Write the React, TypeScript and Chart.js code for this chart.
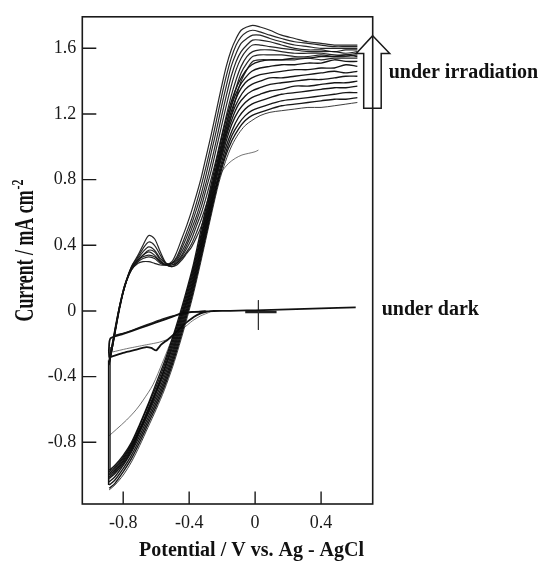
import React, { useEffect, useRef } from "react";
import { Chart, registerables } from "chart.js";

Chart.register(...registerables);

// ---------- axis ticks ----------
const X_TICKS = [-0.8, -0.4, 0, 0.4];
const Y_TICKS = [-0.8, -0.4, 0, 0.4, 0.8, 1.2, 1.6];
const X_MIN = -1.048;
const X_MAX = 0.713;
const Y_MIN = -1.176;
const Y_MAX = 1.792;

// ---------- irradiation: anodic branch (left band, hump, upper plateau group) ----------
const FWD_V = [-0.885, -0.865, -0.845, -0.82, -0.79, -0.75, -0.71, -0.68, -0.645, -0.61, -0.575, -0.54, -0.505, -0.475, -0.445, -0.415, -0.385, -0.355, -0.325, -0.295, -0.265, -0.235, -0.205, -0.175, -0.145, -0.115, -0.085, -0.05, -0.015, 0.03, 0.09, 0.16, 0.24, 0.32, 0.40, 0.48, 0.55, 0.62];
const FWD_1 = [-0.30, -0.20, -0.09, 0.04, 0.16, 0.25, 0.29, 0.30, 0.30, 0.29, 0.28, 0.28, 0.30, 0.36, 0.44, 0.52, 0.61, 0.71, 0.82, 0.95, 1.08, 1.22, 1.36, 1.49, 1.59, 1.66, 1.71, 1.73, 1.74, 1.73, 1.71, 1.68, 1.66, 1.64, 1.63, 1.62, 1.62, 1.62];
const FWD_2 = [-0.31, -0.21, -0.10, 0.03, 0.15, 0.25, 0.30, 0.32, 0.33, 0.32, 0.29, 0.28, 0.29, 0.33, 0.40, 0.48, 0.56, 0.66, 0.77, 0.89, 1.02, 1.16, 1.30, 1.43, 1.54, 1.62, 1.67, 1.70, 1.71, 1.70, 1.68, 1.66, 1.64, 1.63, 1.62, 1.61, 1.61, 1.61];
const FWD_3 = [-0.29, -0.19, -0.08, 0.04, 0.16, 0.26, 0.31, 0.34, 0.36, 0.34, 0.30, 0.28, 0.29, 0.32, 0.38, 0.45, 0.53, 0.62, 0.72, 0.84, 0.97, 1.10, 1.24, 1.37, 1.49, 1.57, 1.63, 1.66, 1.68, 1.68, 1.66, 1.64, 1.62, 1.61, 1.60, 1.60, 1.60, 1.60];
const FWD_4 = [-0.32, -0.22, -0.10, 0.03, 0.15, 0.26, 0.32, 0.36, 0.39, 0.37, 0.32, 0.29, 0.29, 0.31, 0.36, 0.42, 0.50, 0.58, 0.68, 0.79, 0.91, 1.04, 1.18, 1.31, 1.43, 1.52, 1.58, 1.62, 1.65, 1.65, 1.64, 1.62, 1.60, 1.59, 1.59, 1.58, 1.59, 1.59];
const FWD_5 = [-0.30, -0.20, -0.09, 0.04, 0.16, 0.27, 0.33, 0.38, 0.42, 0.40, 0.34, 0.29, 0.28, 0.30, 0.34, 0.40, 0.47, 0.55, 0.64, 0.75, 0.86, 0.99, 1.12, 1.25, 1.37, 1.47, 1.54, 1.59, 1.62, 1.62, 1.61, 1.60, 1.59, 1.58, 1.58, 1.58, 1.57, 1.58];
const FWD_6 = [-0.33, -0.22, -0.11, 0.02, 0.15, 0.27, 0.34, 0.40, 0.46, 0.44, 0.36, 0.29, 0.27, 0.29, 0.33, 0.38, 0.44, 0.52, 0.60, 0.70, 0.81, 0.93, 1.06, 1.19, 1.31, 1.41, 1.49, 1.55, 1.58, 1.59, 1.59, 1.58, 1.57, 1.57, 1.57, 1.56, 1.56, 1.57];
const FWD_7 = [-0.31, -0.21, -0.10, 0.03, 0.15, 0.26, 0.31, 0.33, 0.34, 0.33, 0.30, 0.28, 0.28, 0.29, 0.32, 0.36, 0.41, 0.48, 0.56, 0.65, 0.75, 0.87, 1.00, 1.13, 1.25, 1.36, 1.45, 1.51, 1.55, 1.56, 1.56, 1.56, 1.55, 1.55, 1.56, 1.55, 1.55, 1.56];
const FWD_8 = [-0.32, -0.22, -0.11, 0.03, 0.15, 0.26, 0.31, 0.34, 0.37, 0.36, 0.31, 0.28, 0.27, 0.28, 0.31, 0.35, 0.39, 0.45, 0.52, 0.61, 0.71, 0.82, 0.94, 1.07, 1.19, 1.30, 1.40, 1.47, 1.52, 1.53, 1.53, 1.53, 1.53, 1.54, 1.53, 1.54, 1.54, 1.54];

// ---------- irradiation: cathodic branch (lower plateau group, right band) ----------
const REV_V = [0.62, 0.55, 0.48, 0.40, 0.32, 0.24, 0.16, 0.09, 0.03, -0.02, -0.06, -0.10, -0.14, -0.18, -0.22, -0.26, -0.30, -0.34, -0.38, -0.42, -0.46, -0.50, -0.55, -0.60, -0.65, -0.70, -0.75, -0.80, -0.85, -0.885];
const REV_1 = [1.55, 1.56, 1.55, 1.55, 1.54, 1.54, 1.53, 1.53, 1.52, 1.50, 1.46, 1.39, 1.29, 1.15, 0.98, 0.80, 0.62, 0.44, 0.26, 0.11, -0.03, -0.16, -0.31, -0.44, -0.57, -0.69, -0.80, -0.88, -0.94, -0.97];
const REV_2 = [1.52, 1.52, 1.53, 1.51, 1.51, 1.50, 1.50, 1.49, 1.48, 1.46, 1.42, 1.36, 1.26, 1.12, 0.95, 0.77, 0.59, 0.41, 0.24, 0.09, -0.05, -0.18, -0.33, -0.46, -0.58, -0.70, -0.81, -0.89, -0.95, -0.98];
const REV_3 = [1.49, 1.50, 1.48, 1.48, 1.47, 1.47, 1.46, 1.45, 1.44, 1.42, 1.39, 1.33, 1.23, 1.09, 0.93, 0.75, 0.57, 0.39, 0.22, 0.07, -0.07, -0.20, -0.35, -0.48, -0.60, -0.72, -0.82, -0.90, -0.96, -0.99];
const REV_4 = [1.46, 1.45, 1.46, 1.45, 1.44, 1.43, 1.42, 1.42, 1.40, 1.38, 1.35, 1.29, 1.20, 1.07, 0.91, 0.73, 0.55, 0.37, 0.20, 0.05, -0.09, -0.22, -0.36, -0.49, -0.61, -0.72, -0.83, -0.91, -0.97, -1.00];
const REV_5 = [1.43, 1.43, 1.42, 1.41, 1.41, 1.40, 1.39, 1.38, 1.36, 1.34, 1.31, 1.26, 1.17, 1.05, 0.89, 0.71, 0.53, 0.35, 0.18, 0.03, -0.11, -0.24, -0.38, -0.50, -0.62, -0.73, -0.84, -0.92, -0.98, -1.01];
const REV_6 = [1.40, 1.39, 1.39, 1.38, 1.37, 1.37, 1.35, 1.34, 1.32, 1.30, 1.27, 1.22, 1.14, 1.02, 0.87, 0.69, 0.51, 0.33, 0.16, 0.01, -0.13, -0.26, -0.40, -0.52, -0.63, -0.74, -0.85, -0.93, -0.99, -1.02];
const REV_7 = [1.37, 1.36, 1.36, 1.35, 1.34, 1.33, 1.32, 1.30, 1.28, 1.26, 1.23, 1.18, 1.10, 0.99, 0.84, 0.67, 0.49, 0.31, 0.14, -0.01, -0.15, -0.28, -0.42, -0.54, -0.65, -0.76, -0.86, -0.94, -1.01, -1.04];
const REV_8 = [1.33, 1.33, 1.32, 1.31, 1.30, 1.29, 1.28, 1.26, 1.24, 1.22, 1.19, 1.14, 1.07, 0.96, 0.82, 0.65, 0.47, 0.29, 0.12, -0.03, -0.17, -0.30, -0.44, -0.56, -0.67, -0.78, -0.88, -0.96, -1.03, -1.06];
const REV_9 = [1.30, 1.29, 1.29, 1.28, 1.27, 1.26, 1.25, 1.23, 1.21, 1.19, 1.16, 1.11, 1.04, 0.94, 0.80, 0.63, 0.45, 0.27, 0.10, -0.05, -0.19, -0.32, -0.46, -0.58, -0.69, -0.80, -0.90, -0.98, -1.05, -1.08];
const REV_10 = [1.27, 1.26, 1.25, 1.24, 1.24, 1.23, 1.22, 1.21, 1.19, 1.16, 1.13, 1.08, 1.01, 0.91, 0.78, 0.61, 0.43, 0.25, 0.08, -0.07, -0.21, -0.34, -0.48, -0.60, -0.71, -0.82, -0.92, -1.00, -1.06, -1.09];

// ---------- potential-limit jumps at -0.9 V ----------
const JUMP_V = [-0.888, -0.888];
const JUMP_I = [-1.06, -0.30];
const JUMP2_V = [-0.879, -0.879];
const JUMP2_I = [-0.97, -0.22];

// ---------- first (short) scan ----------
const FIRST_V = [-0.885, -0.84, -0.78, -0.72, -0.68, -0.62, -0.56, -0.52, -0.48, -0.44, -0.40, -0.36, -0.32, -0.28, -0.24, -0.20, -0.16, -0.12, -0.08, -0.04, 0.0, 0.02];
const FIRST_I = [-0.76, -0.72, -0.665, -0.60, -0.545, -0.45, -0.31, -0.21, -0.11, -0.01, 0.09, 0.24, 0.42, 0.60, 0.75, 0.85, 0.90, 0.93, 0.95, 0.96, 0.97, 0.98];

// ---------- under dark ----------
const DARK_V = [0.61, 0.50, 0.40, 0.30, 0.20, 0.10, 0.0, -0.10, -0.20, -0.30, -0.38, -0.44, -0.50, -0.60, -0.70, -0.80, -0.875, -0.885, -0.885, -0.875, -0.80, -0.72, -0.66, -0.63, -0.60, -0.57, -0.53, -0.49, -0.45, -0.41, -0.37, -0.33, -0.29, -0.25, -0.20];
const DARK_I = [0.022, 0.019, 0.016, 0.013, 0.010, 0.006, 0.004, 0.002, 0.0, -0.002, -0.005, -0.012, -0.035, -0.07, -0.105, -0.14, -0.165, -0.20, -0.28, -0.28, -0.255, -0.235, -0.22, -0.225, -0.24, -0.205, -0.175, -0.14, -0.10, -0.065, -0.035, -0.015, -0.004, 0.0, 0.0];
const DARK2_V = [-0.86, -0.78, -0.70, -0.62, -0.55, -0.48, -0.42, -0.36, -0.30];
const DARK2_I = [-0.15, -0.13, -0.10, -0.07, -0.045, -0.025, -0.012, -0.005, 0.0];
const DARK3_V = [-0.865, -0.78, -0.68, -0.58, -0.50, -0.44, -0.38, -0.33, -0.27];
const DARK3_I = [-0.25, -0.23, -0.21, -0.19, -0.16, -0.11, -0.06, -0.03, -0.005];

// ---------- marker cross near 0 V ----------
const CROSS_V = [0.02, 0.02];
const CROSS_I = [0.065, -0.115];
const BAR_V = [-0.06, 0.13];
const BAR_I = [-0.006, -0.006];

const pts = (xs: number[], ys: number[]) => xs.map((x, i) => ({ x, y: ys[i] }));

const SERIF = '"Liberation Serif", "Times New Roman", serif';

export default function App() {
  const ref = useRef<HTMLCanvasElement | null>(null);

  useEffect(() => {
    document.body.style.margin = "0";
    const canvas = ref.current;
    if (!canvas) return;

    const line = (data: { x: number; y: number }[], width: number, color: string, tension = 0.3) => ({
      data,
      showLine: true,
      borderColor: color,
      borderWidth: width,
      pointRadius: 0,
      tension,
      fill: false,
    });

    const fwd = [FWD_1, FWD_2, FWD_3, FWD_4, FWD_5, FWD_6, FWD_7, FWD_8];
    const rev = [REV_1, REV_2, REV_3, REV_4, REV_5, REV_6, REV_7, REV_8, REV_9];

    const datasets: any[] = [
      ...fwd.map((ys) => line(pts(FWD_V, ys), 1.2, "rgba(20,20,20,0.92)")),
      ...rev.map((ys) => line(pts(REV_V, ys), 1.35, "rgba(10,10,10,0.95)")),
      line(pts(REV_V, REV_10), 1.0, "rgba(40,40,40,0.9)"),
      line(pts(JUMP_V, JUMP_I), 1.6, "#111", 0),
      line(pts(JUMP2_V, JUMP2_I), 1.2, "#222", 0),
      line(pts(FIRST_V, FIRST_I), 0.8, "rgba(60,60,60,0.9)"),
      line(pts(DARK_V, DARK_I), 1.8, "#111", 0.2),
      line(pts(DARK2_V, DARK2_I), 1.2, "#222", 0.2),
      line(pts(DARK3_V, DARK3_I), 0.8, "#555", 0.2),
      line(pts(CROSS_V, CROSS_I), 1.0, "#333", 0),
      line(pts(BAR_V, BAR_I), 2.6, "#222", 0),
    ];

    const decor = {
      id: "decor",
      afterDraw(chart: any) {
        const { ctx, chartArea: a, scales } = chart;
        const xs = scales.x;
        const ys = scales.y;
        ctx.save();
        // frame
        ctx.strokeStyle = "#1a1a1a";
        ctx.lineWidth = 1.6;
        ctx.strokeRect(a.left, a.top, a.right - a.left, a.bottom - a.top);
        // inward ticks
        ctx.lineWidth = 1.4;
        ctx.beginPath();
        Y_TICKS.forEach((v) => {
          const y = ys.getPixelForValue(v);
          ctx.moveTo(a.left, y);
          ctx.lineTo(a.left + 14, y);
        });
        X_TICKS.forEach((v) => {
          const x = xs.getPixelForValue(v);
          ctx.moveTo(x, a.bottom);
          ctx.lineTo(x, a.bottom - 12.5);
        });
        ctx.stroke();

        // hollow upward arrow on the right frame
        const cx = a.right;
        const tipY = ys.getPixelForValue(1.677);
        const headY = ys.getPixelForValue(1.568);
        const baseY = ys.getPixelForValue(1.235);
        ctx.lineWidth = 1.5;
        ctx.beginPath();
        ctx.moveTo(cx, tipY);
        ctx.lineTo(cx + 17, headY);
        ctx.lineTo(cx + 8.5, headY);
        ctx.lineTo(cx + 8.5, baseY);
        ctx.lineTo(cx - 9, baseY);
        ctx.lineTo(cx - 9, headY);
        ctx.lineTo(cx - 16.5, headY);
        ctx.closePath();
        ctx.stroke();

        // annotations
        ctx.fillStyle = "#111";
        ctx.font = `bold 20px ${SERIF}`;
        ctx.textAlign = "left";
        ctx.textBaseline = "alphabetic";
        ctx.fillText("under irradiation", a.right + 16, ys.getPixelForValue(1.417));
        ctx.fillText("under dark", a.right + 9, ys.getPixelForValue(0) + 4);

        // x title
        ctx.textAlign = "center";
        ctx.fillText("Potential / V vs. Ag - AgCl", 251.5, 555.5);

        // y title (rotated, condensed)
        ctx.save();
        ctx.translate(33, 321.5);
        ctx.rotate(-Math.PI / 2);
        ctx.textAlign = "left";
        ctx.font = `bold 27px ${SERIF}`;
        ctx.fillText("Current / mA cm", 0, 0, 131);
        ctx.font = `bold 16px ${SERIF}`;
        ctx.fillText("-2", 132, -10, 10);
        ctx.restore();

        ctx.restore();
      },
    };

    const chart = new Chart(canvas, {
      type: "scatter",
      data: { datasets },
      options: {
        animation: false,
        responsive: false,
        devicePixelRatio: 1,
        layout: { padding: { top: 14, right: 167.3, left: 0, bottom: 0 } },
        plugins: { legend: { display: false }, tooltip: { enabled: false } },
        scales: {
          x: {
            type: "linear",
            min: X_MIN,
            max: X_MAX,
            grid: { display: false, drawTicks: false },
            border: { display: false },
            afterBuildTicks: (s: any) => {
              s.ticks = X_TICKS.map((v) => ({ value: v }));
            },
            afterFit: (s: any) => {
              s.height = 57;
            },
            ticks: {
              padding: 8,
              color: "#1a1a1a",
              font: { family: SERIF, size: 18 },
              maxRotation: 0,
              callback: (v: any) => Number(Number(v).toFixed(1)).toString(),
            },
          },
          y: {
            type: "linear",
            min: Y_MIN,
            max: Y_MAX,
            grid: { display: false, drawTicks: false },
            border: { display: false },
            afterBuildTicks: (s: any) => {
              s.ticks = Y_TICKS.map((v) => ({ value: v }));
            },
            afterFit: (s: any) => {
              s.width = 82.3;
            },
            ticks: {
              padding: 6,
              color: "#1a1a1a",
              font: { family: SERIF, size: 18 },
              callback: (v: any) => Number(Number(v).toFixed(1)).toString(),
            },
          },
        },
      },
      plugins: [decor],
    });

    return () => chart.destroy();
  }, []);

  return (
    <div style={{ position: "absolute", left: 0, top: 0, width: 540, height: 561, background: "#fff" }}>
      <canvas ref={ref} width={540} height={561} style={{ display: "block", width: 540, height: 561 }} />
    </div>
  );
}
